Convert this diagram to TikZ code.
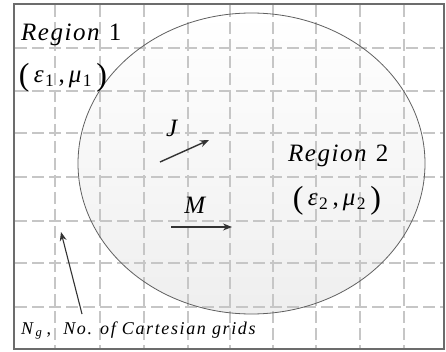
\documentclass[tikz,border=0pt]{standalone}
\usepackage{fontspec}
\setmainfont{Liberation Serif}
\newfontfamily\spaced[LetterSpace=6]{Liberation Serif}
\newfontfamily\spacedsm[LetterSpace=9]{Liberation Serif}
\usetikzlibrary{arrows.meta}
\newcommand{\bigparen}[1]{\raisebox{-3pt}{\fontsize{32}{32}\selectfont #1}}
\newcommand{\epsmu}[1]{\bigparen{(}\,\textit{ε}\textsubscript{#1}\,,\,\textit{μ}\textsubscript{#1}\,\bigparen{)}}
\tikzset{
  frame/.style={draw=gray!85!black, line width=1.3pt},
  gridline/.style={draw=gray!45, line width=1.1pt, dash pattern=on 12pt off 5pt},
  region/.style={top color=white, bottom color=gray!13},
  lbl/.style={inner sep=0pt, font=\spaced\fontsize{25}{25}\selectfont, text=black},
  small/.style={inner sep=0pt, font=\spacedsm\fontsize{18}{18}\selectfont, text=black},
  vec/.style={draw=black!80, line width=1.4pt, -{Stealth[length=9pt,width=7pt]}}
}
\begin{document}
\begin{tikzpicture}[x=1pt,y=-1pt]
\useasboundingbox (0,0) rectangle (446,352);
\fill[white] (0,0) rectangle (446,352);
% Region 2 ellipse
\path[region] (251.5,163.5) ellipse [x radius=173.5, y radius=150.5];
% Cartesian grid
\foreach \x in {55,100,144,188,230,273,316,360,404}
  \draw[gridline] (\x,5) -- (\x,348);
\foreach \y in {48,91,133,177,221,263,307}
  \draw[gridline] (15,\y) -- (443,\y);
\draw[draw=gray!75!black, line width=0.8pt] (251.5,163.5) ellipse [x radius=173.5, y radius=150.5];
\draw[frame] (14,4) rectangle (444,349);
% labels
\node[lbl, anchor=base west] (r1) at (21,41) {\textit{Region} 1};
\node[lbl, anchor=center] (m1) at (63,78) {\epsmu{1}};
\node[lbl, anchor=base west] (r2) at (288,162) {\textit{Region} 2};
\node[lbl, anchor=center] (m2) at (337,201) {\epsmu{2}};
\node[lbl, anchor=base] (J) at (173,137) {\textit{J}};
\node[lbl, anchor=base] (M) at (196,214) {\textit{M}};
\node[small, anchor=base west] (ng) at (21,334) {\textit{N}\textsubscript{\textit{g}}\,,\ \ \textit{No. of Cartesian grids}};
% vectors
\coordinate (j0) at (160,162);
\coordinate (j1) at (209,140);
\coordinate (m0) at (171,227);
\coordinate (m1e) at (232,227);
\coordinate (g0) at (82,314);
\coordinate (g1) at (61,232);
\draw[vec] (j0) -- (j1);
\draw[vec] (m0) -- (m1e);
\draw[vec, line width=1.1pt] (g0) -- (g1);
\end{tikzpicture}
\end{document}
